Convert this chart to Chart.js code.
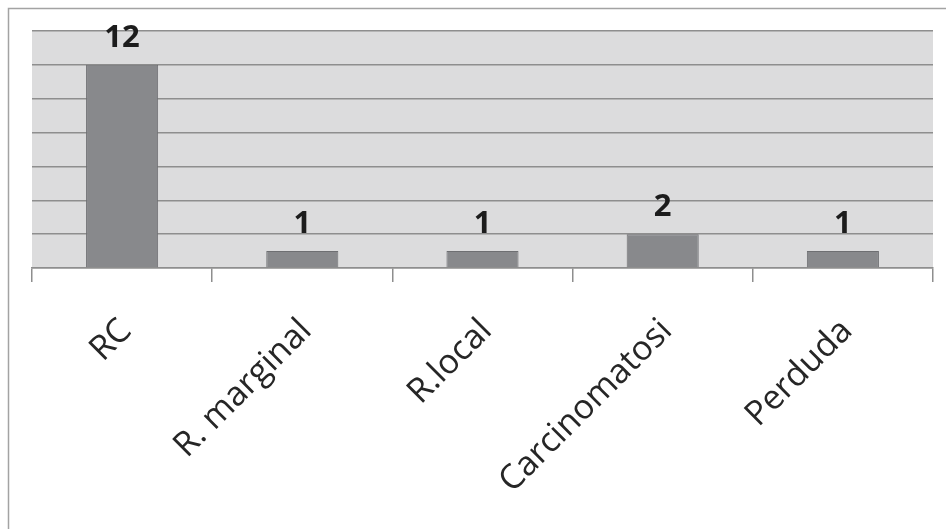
<!DOCTYPE html>
<html>
<head>
<meta charset="utf-8">
<script src="https://cdn.jsdelivr.net/npm/chart.js@4.4.1/dist/chart.umd.min.js"></script>
<style>
  html, body { margin: 0; padding: 0; background: #ffffff; }
  #wrap { width: 946px; height: 529px; position: relative; }
</style>
</head>
<body>
<div id="wrap"><canvas id="chart" width="946" height="529"></canvas></div>
<script>
// Outcome categories and their case counts
const categories = ['RC', 'R. marginal', 'R.local', 'Carcinomatosi', 'Perduda'];
const counts = [12, 1, 1, 2, 1];
// Value axis range (gridlines every 2 cases)
const yMin = 0;
const yMax = 14;
const yStep = 2;

const GRID = '#8e8e8e';
const PLOT_BG = '#dcdcdd';
const BAR = '#88898c';
const BAR_EDGE = '#6e6f72';
const FONT = '"Open Sans", "Noto Sans", sans-serif';

// Frame lines and shaded plotting area
const framePlugin = {
  id: 'frame',
  beforeDraw(chart) {
    const { ctx, chartArea } = chart;
    ctx.save();
    ctx.fillStyle = '#ffffff';
    ctx.fillRect(0, 0, chart.width, chart.height);
    ctx.strokeStyle = '#a3a3a3';
    ctx.lineWidth = 1.5;
    ctx.beginPath();
    ctx.moveTo(8.5, chart.height);
    ctx.lineTo(8.5, 8.5);
    ctx.lineTo(chart.width, 8.5);
    ctx.stroke();
    ctx.fillStyle = PLOT_BG;
    ctx.fillRect(chartArea.left, chartArea.top, chartArea.right - chartArea.left, chartArea.bottom - chartArea.top);
    ctx.restore();
  }
};

// Value labels above each bar
const valueLabels = {
  id: 'valueLabels',
  afterDatasetsDraw(chart) {
    const { ctx } = chart;
    const meta = chart.getDatasetMeta(0);
    ctx.save();
    ctx.font = 'bold 31px ' + FONT;
    ctx.fillStyle = '#1c1c1c';
    ctx.textAlign = 'center';
    ctx.textBaseline = 'alphabetic';
    meta.data.forEach((bar, i) => {
      ctx.fillText(String(counts[i]), bar.x, bar.y - 18);
    });
    ctx.restore();
  }
};

new Chart(document.getElementById('chart'), {
  type: 'bar',
  data: {
    labels: categories,
    datasets: [{
      data: counts,
      backgroundColor: BAR,
      borderColor: BAR_EDGE,
      borderWidth: 1,
      barPercentage: 0.5,
      categoryPercentage: 0.8
    }]
  },
  options: {
    responsive: false,
    animation: false,
    devicePixelRatio: 1,
    layout: { padding: { left: 0, top: 31, right: 13, bottom: 0 } },
    plugins: {
      legend: { display: false },
      tooltip: { enabled: false }
    },
    scales: {
      x: {
        grid: {
          display: true,
          offset: true,
          drawOnChartArea: false,
          drawTicks: true,
          tickLength: 14,
          color: GRID,
          lineWidth: 1.5
        },
        border: { display: true, color: GRID, width: 1.5 },
        ticks: {
          autoSkip: false,
          minRotation: 45,
          maxRotation: 45,
          padding: 29,
          labelOffset: 4,
          color: '#262626',
          font: { family: FONT, size: 34 }
        },
        afterFit(scale) { scale.height = 261; }
      },
      y: {
        min: yMin,
        max: yMax,
        ticks: { display: false, stepSize: yStep },
        grid: {
          color: GRID,
          lineWidth: 1.5,
          drawTicks: false
        },
        border: { display: false },
        afterFit(scale) { scale.width = 32; }
      }
    }
  },
  plugins: [framePlugin, valueLabels]
});
</script>
</body>
</html>
